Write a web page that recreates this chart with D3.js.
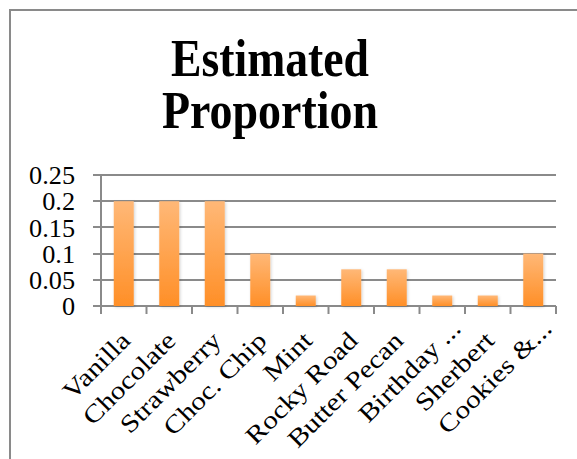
<!DOCTYPE html>
<html>
<head>
<meta charset="utf-8">
<script src="https://cdn.jsdelivr.net/npm/d3@7"></script>
<style>
  body { margin: 0; background: #fff; }
  svg text { font-family: "Liberation Serif", "DejaVu Serif", serif; fill: #000; }
</style>
</head>
<body>
<svg id="chart" width="577" height="459"></svg>
<script>
// chart data
var flavors = ['Vanilla', 'Chocolate', 'Strawberry', 'Choc. Chip', 'Mint',
               'Rocky Road', 'Butter Pecan', 'Birthday ...', 'Sherbert', 'Cookies &...'];
var proportions = [0.2, 0.2, 0.2, 0.1, 0.02, 0.07, 0.07, 0.02, 0.02, 0.1];
var yTicks = [0, 0.05, 0.1, 0.15, 0.2, 0.25];
var titleLines = ['Estimated', 'Proportion'];

(function() {
    var svg = d3.select('#chart');

    // outer frame (cut off by the picture on the right and bottom)
    svg.append('path')
        .attr('d', 'M10,470 L10,10 L590,10')
        .attr('fill', 'none')
        .attr('stroke', '#8a8a8a')
        .attr('stroke-width', 2);

    // title
    var titleWidths = [198, 216];
    svg.selectAll('.title')
        .data(titleLines)
        .enter()
        .append('text')
        .attr('class', 'title')
        .attr('x', 270)
        .attr('y', function(d, i) { return 76 + i * 52; })
        .attr('text-anchor', 'middle')
        .attr('font-weight', 'bold')
        .attr('font-size', 53)
        .attr('textLength', function(d, i) { return titleWidths[i]; })
        .attr('lengthAdjust', 'spacingAndGlyphs')
        .text(function(d) { return d; });

    var left = 101, right = 556, plotTop = 175, bottom = 306;

    var x = d3.scaleBand().domain(flavors).range([left, right]);
    var y = d3.scaleLinear().domain([0, 0.25]).range([bottom, plotTop]);

    var defs = svg.append('defs');
    var grad = defs.append('linearGradient')
        .attr('id', 'barGrad')
        .attr('x1', 0).attr('y1', 0).attr('x2', 0).attr('y2', 1);
    grad.append('stop').attr('offset', '0%').attr('stop-color', '#ffb877');
    grad.append('stop').attr('offset', '100%').attr('stop-color', '#ff8f27');

    var shadow = defs.append('filter').attr('id', 'shadow')
        .attr('x', '-30%').attr('y', '-10%').attr('width', '160%').attr('height', '130%');
    shadow.append('feDropShadow')
        .attr('dx', 1).attr('dy', 1).attr('stdDeviation', 1.5)
        .attr('flood-color', '#000').attr('flood-opacity', 0.18);

    // gridlines
    svg.append('g')
        .selectAll('line')
        .data(yTicks)
        .enter()
        .append('line')
        .attr('x1', left - 8)
        .attr('x2', right)
        .attr('y1', function(d) { return Math.round(y(d)); })
        .attr('y2', function(d) { return Math.round(y(d)); })
        .attr('stroke', '#8a8a8a')
        .attr('stroke-width', 2);

    // vertical axis line
    svg.append('line')
        .attr('x1', left).attr('x2', left)
        .attr('y1', plotTop).attr('y2', bottom + 8)
        .attr('stroke', '#8a8a8a').attr('stroke-width', 2);

    // category ticks under the axis
    svg.append('g')
        .selectAll('line')
        .data(d3.range(flavors.length + 1))
        .enter()
        .append('line')
        .attr('x1', function(i) { return left + i * x.bandwidth(); })
        .attr('x2', function(i) { return left + i * x.bandwidth(); })
        .attr('y1', bottom)
        .attr('y2', bottom + 8)
        .attr('stroke', '#8a8a8a')
        .attr('stroke-width', 2);

    // y labels
    var yAxis = d3.axisLeft(y).tickValues(yTicks).tickSize(0).tickPadding(0)
        .tickFormat(function(d) { return String(d); });
    var yg = svg.append('g').attr('transform', 'translate(75,0)').call(yAxis);
    yg.select('.domain').remove();
    yg.selectAll('text')
        .attr('font-size', 25)
        .attr('font-family', '"Liberation Serif", serif')
        .attr('fill', '#000')
        .attr('dy', '0.35em')
        .attr('transform', 'scale(1.05,1)');

    // bars
    var barW = 20;
    svg.append('g')
        .selectAll('rect')
        .data(proportions)
        .enter()
        .append('rect')
        .attr('x', function(d, i) { return x(flavors[i]) + x.bandwidth() / 2 - barW / 2; })
        .attr('y', function(d) { return y(d); })
        .attr('width', barW)
        .attr('height', function(d) { return bottom - y(d); })
        .attr('fill', 'url(#barGrad)')
        .attr('filter', 'url(#shadow)');

    // category labels, rotated; truncated ones sit a little further up the diagonal
    svg.append('g')
        .selectAll('text')
        .data(flavors)
        .enter()
        .append('text')
        .attr('font-size', 25)
        .attr('text-anchor', 'end')
        .attr('transform', function(d) {
            var shift = d.slice(-3) == '...' ? 12 : 0;
            var cx = x(d) + x.bandwidth() / 2 + 8 + shift;
            var cy = bottom + 36 - shift;
            return 'translate(' + cx + ',' + cy + ') rotate(-45) scale(1.18,1)';
        })
        .text(function(d) { return d; });
})();
</script>
</body>
</html>
